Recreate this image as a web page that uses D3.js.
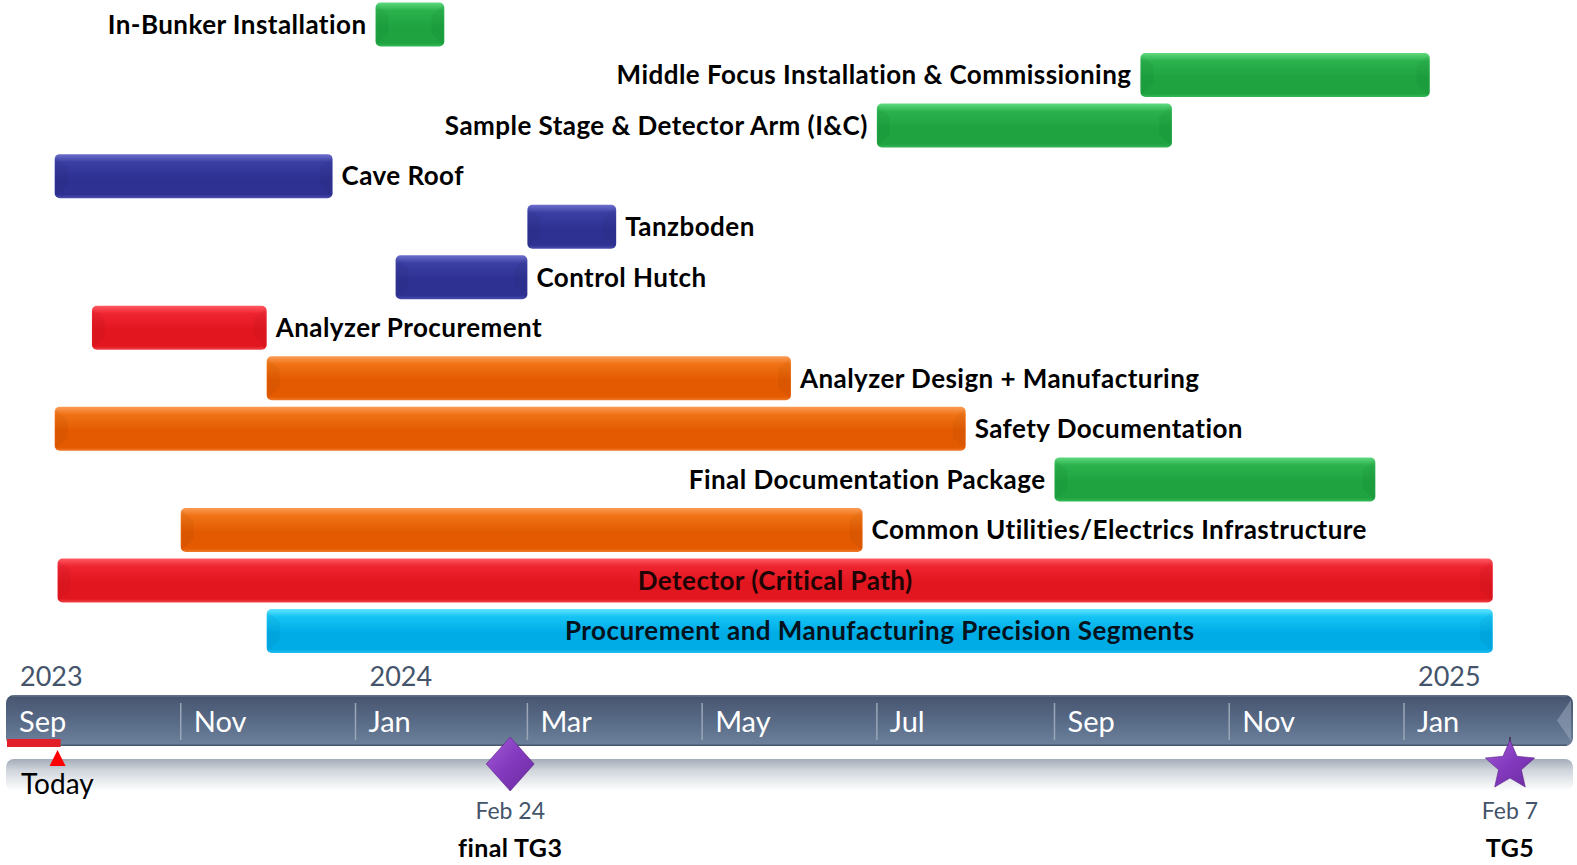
<!DOCTYPE html>
<html>
<head>
<meta charset="utf-8">
<script src="https://cdn.jsdelivr.net/npm/d3@7"></script>
<style>
  html, body { margin: 0; padding: 0; background: #ffffff; }
  svg { display: block; }
</style>
</head>
<body>
<svg id="chart" width="1577" height="865"></svg>
<script>
// ---------------- DATA ----------------
const taskNames = [
  "In-Bunker Installation",
  "Middle Focus Installation & Commissioning",
  "Sample Stage & Detector Arm (I&C)",
  "Cave Roof",
  "Tanzboden",
  "Control Hutch",
  "Analyzer Procurement",
  "Analyzer Design + Manufacturing",
  "Safety Documentation",
  "Final Documentation Package",
  "Common Utilities/Electrics Infrastructure",
  "Detector (Critical Path)",
  "Procurement and Manufacturing Precision Segments"
];
const taskStart = [
  "2024-01-08", "2024-10-01", "2024-07-01", "2023-09-18", "2024-03-01",
  "2024-01-15", "2023-10-01", "2023-12-01", "2023-09-18", "2024-09-01",
  "2023-11-01", "2023-09-19", "2023-12-01"
];
const taskEnd = [
  "2024-02-01", "2025-01-10", "2024-10-12", "2023-12-24", "2024-04-01",
  "2024-03-01", "2023-12-01", "2024-06-01", "2024-08-01", "2024-12-22",
  "2024-06-26", "2025-02-01", "2025-02-01"
];
const taskGroup = [
  "installation", "installation", "installation", "civil", "civil",
  "civil", "critical", "design", "design", "installation",
  "design", "critical", "procurement"
];
const labelSide = [
  "left", "left", "left", "right", "right", "right", "right",
  "right", "right", "left", "right", "inside", "inside"
];
const todayDate = "2023-09-19";
const todayLabel = "Today";
const milestoneDates = ["2024-02-24", "2025-02-07"];
const milestoneNames = ["final TG3", "TG5"];
const milestoneShapes = ["diamond", "star"];
const axisStart = "2023-09-01";
const axisEnd = "2025-03-01";

// ---------------- STYLE ----------------
const palette = {
  installation: { top: "#5fd97e", mid: "#2bb24d", base: "#1ea340", bot: "#35b956" },
  civil:        { top: "#6d70cc", mid: "#3b3fa3", base: "#2e3192", bot: "#4a4eae" },
  critical:     { top: "#ff5a63", mid: "#ee2430", base: "#e2161f", bot: "#f0434b" },
  design:       { top: "#fb9b55", mid: "#f07214", base: "#e35a00", bot: "#ef7a28" },
  procurement:  { top: "#5fe6ff", mid: "#15c3f4", base: "#00ace6", bot: "#27c0f0" }
};
const insideTextColor = { critical: "#1e0404", procurement: "#03121c" };
const labelFont = "Lato, 'Open Sans', sans-serif";

const parse = d3.utcParse("%Y-%m-%d");
const svg = d3.select("#chart");
const defs = svg.append("defs");

const x = d3.scaleUtc()
  .domain([parse(axisStart), parse(axisEnd)])
  .range([6, 1573]);

const y = d3.scalePoint()
  .domain(taskNames)
  .range([24.5, 631]);

const barH = 44;

// gradients per group
Object.entries(palette).forEach(([k, c]) => {
  const g = defs.append("linearGradient").attr("id", "g-" + k)
    .attr("x1", 0).attr("y1", 0).attr("x2", 0).attr("y2", 1);
  g.append("stop").attr("offset", "0%").attr("stop-color", c.top);
  g.append("stop").attr("offset", "18%").attr("stop-color", c.mid);
  g.append("stop").attr("offset", "55%").attr("stop-color", c.base);
  g.append("stop").attr("offset", "92%").attr("stop-color", c.base);
  g.append("stop").attr("offset", "100%").attr("stop-color", c.bot);
});

// ---------------- BARS ----------------
const tasks = taskNames.map((n, i) => ({
  name: n, start: parse(taskStart[i]), end: parse(taskEnd[i]),
  group: taskGroup[i], side: labelSide[i]
}));

const bars = svg.append("g").attr("class", "bars");
const bg = bars.selectAll("g.task").data(tasks).join("g").attr("class", "task");

bg.append("rect")
  .attr("x", d => x(d.start))
  .attr("y", d => y(d.name) - barH / 2)
  .attr("width", d => x(d.end) - x(d.start))
  .attr("height", barH)
  .attr("rx", 5).attr("ry", 5)
  .attr("fill", d => `url(#g-${d.group})`);

// bevel ends
const bev = 13;
bg.append("path")
  .attr("d", d => {
    const x0 = x(d.start), y0 = y(d.name) - barH / 2, y1 = y0 + barH;
    const b = Math.min(bev, (x(d.end) - x0) / 3);
    return `M${x0 + 1},${y0 + 2}L${x0 + b},${y0 + b}L${x0 + b},${y1 - b}L${x0 + 1},${y1 - 2}Z`;
  })
  .attr("fill", "#000").attr("opacity", 0.035);
bg.append("path")
  .attr("d", d => {
    const x1 = x(d.end), y0 = y(d.name) - barH / 2, y1 = y0 + barH;
    const b = Math.min(bev, (x1 - x(d.start)) / 3);
    return `M${x1 - 1},${y0 + 2}L${x1 - b},${y0 + b}L${x1 - b},${y1 - b}L${x1 - 1},${y1 - 2}Z`;
  })
  .attr("fill", "#000").attr("opacity", 0.035);

// labels
bg.append("text")
  .attr("x", d => d.side === "left" ? x(d.start) - 9 : d.side === "right" ? x(d.end) + 9 : (x(d.start) + x(d.end)) / 2)
  .attr("y", d => y(d.name))
  .attr("dy", "0.36em")
  .attr("text-anchor", d => d.side === "left" ? "end" : d.side === "right" ? "start" : "middle")
  .attr("font-family", labelFont)
  .attr("font-weight", 700)
  .attr("font-size", 26)
  .attr("letter-spacing", 0.45)
  .attr("fill", d => d.side === "inside" ? insideTextColor[d.group] : "#000")
  .text(d => d.name);

// ---------------- TIME AXIS ----------------
const bandTop = 695, bandBot = 746;
const axisG = svg.append("g").attr("class", "axis");

const ag = defs.append("linearGradient").attr("id", "axisGrad")
  .attr("x1", 0).attr("y1", 0).attr("x2", 0).attr("y2", 1);
ag.append("stop").attr("offset", "0%").attr("stop-color", "#415069");
ag.append("stop").attr("offset", "8%").attr("stop-color", "#4a5873");
ag.append("stop").attr("offset", "55%").attr("stop-color", "#596c88");
ag.append("stop").attr("offset", "100%").attr("stop-color", "#6e829d");

const lg = defs.append("linearGradient").attr("id", "lowGrad")
  .attr("x1", 0).attr("y1", 0).attr("x2", 0).attr("y2", 1);
lg.append("stop").attr("offset", "0%").attr("stop-color", "#a3acb8");
lg.append("stop").attr("offset", "35%").attr("stop-color", "#d0d5dc");
lg.append("stop").attr("offset", "100%").attr("stop-color", "#ffffff");

const xr = x.range();
// lower light band
axisG.append("rect")
  .attr("x", xr[0]).attr("y", 759)
  .attr("width", xr[1] - xr[0]).attr("height", 32)
  .attr("rx", 8).attr("fill", "url(#lowGrad)");

// main band
axisG.append("rect")
  .attr("x", xr[0]).attr("y", bandTop)
  .attr("width", xr[1] - xr[0]).attr("height", bandBot - bandTop)
  .attr("rx", 8).attr("fill", "url(#axisGrad)");
axisG.append("line")
  .attr("x1", xr[0] + 6).attr("x2", xr[1] - 6)
  .attr("y1", bandTop + 0.8).attr("y2", bandTop + 0.8)
  .attr("stroke", "#8a97aa").attr("stroke-width", 1.2).attr("opacity", 0.6);
axisG.append("line")
  .attr("x1", xr[0] + 6).attr("x2", xr[1] - 6)
  .attr("y1", bandBot - 0.8).attr("y2", bandBot - 0.8)
  .attr("stroke", "#3b475c").attr("stroke-width", 1.5).attr("opacity", 0.7);
// right bevel
axisG.append("path")
  .attr("d", `M${xr[1] - 2},${bandTop + 5}L${xr[1] - 16},${(bandTop + bandBot) / 2}L${xr[1] - 2},${bandBot - 5}Z`)
  .attr("fill", "#9aa8bb").attr("opacity", 0.55);

const ticks = x.ticks(d3.utcMonth.every(2)).filter(d => d < x.domain()[1]);
// separators
axisG.selectAll("line.sep").data(ticks.slice(1)).join("line")
  .attr("class", "sep")
  .attr("x1", d => x(d)).attr("x2", d => x(d))
  .attr("y1", 703).attr("y2", 740)
  .attr("stroke", "#9aa6b6").attr("stroke-width", 1.5);
// month labels
axisG.selectAll("text.month").data(ticks).join("text")
  .attr("class", "month")
  .attr("x", d => x(d) + 13)
  .attr("y", 732)
  .attr("font-family", labelFont)
  .attr("font-size", 29)
  .attr("fill", "#ffffff")
  .text(d => d3.utcFormat("%b")(d));
// year labels
const yearTicks = [ticks[0]].concat(ticks.filter(d => d.getUTCMonth() === 0));
axisG.selectAll("text.year").data(yearTicks).join("text")
  .attr("class", "year")
  .attr("x", d => x(d) + 14)
  .attr("y", 686)
  .attr("font-family", labelFont)
  .attr("font-size", 27)
  .attr("fill", "#44546a")
  .text(d => d3.utcFormat("%Y")(d));

// ---------------- TODAY ----------------
const tx = x(parse(todayDate));
axisG.append("rect")
  .attr("x", xr[0] + 1).attr("y", 739)
  .attr("width", tx - xr[0] + 2).attr("height", 8)
  .attr("fill", "#e2202a");
axisG.append("path")
  .attr("d", `M${tx},750L${tx + 8},766L${tx - 8},766Z`)
  .attr("fill", "#ff0000");
axisG.append("text")
  .attr("x", xr[0] + 15).attr("y", 794)
  .attr("font-family", labelFont)
  .attr("font-size", 28)
  .attr("fill", "#000")
  .text(todayLabel);

// ---------------- MILESTONES ----------------
const mg = defs.append("linearGradient").attr("id", "msGrad")
  .attr("x1", 0).attr("y1", 0).attr("x2", 1).attr("y2", 1);
mg.append("stop").attr("offset", "0%").attr("stop-color", "#a15ad6");
mg.append("stop").attr("offset", "50%").attr("stop-color", "#8339bd");
mg.append("stop").attr("offset", "100%").attr("stop-color", "#6a2ca0");

const milestones = milestoneDates.map((d, i) => ({
  date: parse(d), name: milestoneNames[i], shape: milestoneShapes[i]
}));
const msCy = 764;
function starPath(cx, cy, R, r) {
  const pts = [];
  for (let k = 0; k < 10; k++) {
    const a = -Math.PI / 2 + k * Math.PI / 5;
    const rad = k % 2 === 0 ? R : r;
    pts.push([cx + rad * Math.cos(a), cy + rad * Math.sin(a)]);
  }
  return "M" + pts.map(p => p.join(",")).join("L") + "Z";
}
const ms = svg.append("g").selectAll("g").data(milestones).join("g");
ms.filter(d => d.shape === "star").append("line")
  .attr("x1", d => x(d.date)).attr("x2", d => x(d.date))
  .attr("y1", 737).attr("y2", 745)
  .attr("stroke", "#3a2a4a").attr("stroke-width", 1.5);
ms.append("path")
  .attr("d", d => {
    const cx = x(d.date);
    if (d.shape === "diamond") {
      return `M${cx},${msCy - 27}L${cx + 24},${msCy}L${cx},${msCy + 27}L${cx - 24},${msCy}Z`;
    }
    return starPath(cx, msCy + 2, 26, 12);
  })
  .attr("fill", "url(#msGrad)")
  .attr("stroke", "#5a2388").attr("stroke-width", 0.6);
ms.append("text")
  .attr("x", d => x(d.date)).attr("y", 819)
  .attr("text-anchor", "middle")
  .attr("font-family", labelFont)
  .attr("font-size", 23)
  .attr("fill", "#44546a")
  .text(d => d3.utcFormat("%b %-d")(d.date));
ms.append("text")
  .attr("x", d => x(d.date)).attr("y", 857)
  .attr("text-anchor", "middle")
  .attr("font-family", labelFont)
  .attr("font-weight", 700)
  .attr("font-size", 25)
  .attr("letter-spacing", 0.4)
  .attr("fill", "#000")
  .text(d => d.name);
</script>
</body>
</html>
